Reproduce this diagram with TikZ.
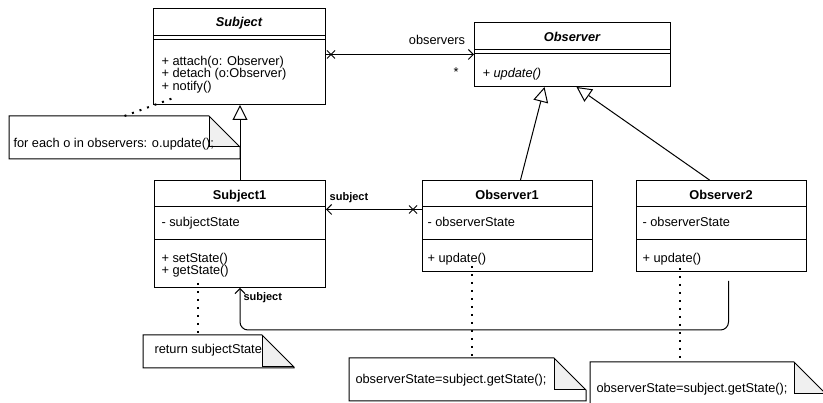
\documentclass[tikz,border=0pt]{standalone}
\usepackage{fontspec}
\setmainfont{Liberation Sans}
\usetikzlibrary{arrows.meta}
\newcommand\umlnote[2]{%
  \fill[gray!12] ([xshift=-#2pt]#1.north east) -- ([xshift=-#2pt,yshift=-#2pt]#1.north east) -- ([yshift=-#2pt]#1.north east) -- cycle;
  \draw (#1.north west) -- ([xshift=-#2pt]#1.north east) -- ([yshift=-#2pt]#1.north east) -- (#1.south east) -- (#1.south west) -- cycle;
  \draw ([xshift=-#2pt]#1.north east) -- ([xshift=-#2pt,yshift=-#2pt]#1.north east) -- ([yshift=-#2pt]#1.north east);}
\begin{document}
\begin{tikzpicture}[x=1pt,y=-1pt,line width=1pt,
  classbox/.style={draw, rectangle, inner sep=0pt, anchor=north west},
  notebox/.style={rectangle, inner sep=0pt, anchor=north west},
  txt/.style={anchor=base west, inner sep=0pt, font=\fontsize{12.8}{15}\selectfont},
  ttl/.style={anchor=base, inner sep=0pt, font=\fontsize{12.8}{15}\selectfont\bfseries},
  lbl/.style={inner sep=0pt, font=\fontsize{11}{13}\selectfont\bfseries},
  assoc/.style={-{Straight Barb[length=5pt,width=10pt]}},
  inh/.style={-{Triangle[length=15pt,width=15pt,fill=white]}},
  dotl/.style={line width=2pt, dash pattern=on 2pt off 6pt}]
\useasboundingbox (0,0) rectangle (823,403);
% Subject
\node[classbox, minimum width=172pt, minimum height=96pt] (subject) at (153,8) {};
\draw (153,36) -- (325,36) (153,40) -- (325,40);
\node[ttl, font=\fontsize{12.8}{15}\selectfont\bfseries\itshape] (subjectT) at (239,26.5) {Subject};
\node[txt] (sm1) at (161,65.5) {+ attach(o: Observer)};
\node[txt] (sm2) at (161,78) {+ detach (o:Observer)};
\node[txt] (sm3) at (161,90.5) {+ notify()};
% Observer
\node[classbox, minimum width=196pt, minimum height=64pt] (observer) at (474,22) {};
\draw (474,50) -- (670,50) (474,54) -- (670,54);
\node[ttl, font=\fontsize{12.8}{15}\selectfont\bfseries\itshape] (observerT) at (572,41.5) {Observer};
\node[txt, font=\fontsize{12.8}{15}\selectfont\itshape] (om1) at (482,77.5) {+ update()};
% Subject1
\node[classbox, minimum width=171pt, minimum height=107pt] (subject1) at (154,180) {};
\draw (154,207) -- (325,207) (154,240) -- (325,240);
\node[ttl] (subject1T) at (239.5,199.5) {Subject1};
\node[txt] (s1a) at (161,226.5) {- subjectState};
\node[txt] (s1m1) at (161,262.5) {+ setState()};
\node[txt] (s1m2) at (161,274.5) {+ getState()};
% Observer1
\node[classbox, minimum width=170pt, minimum height=91pt] (observer1) at (422,180) {};
\draw (422,207) -- (592,207) (422,240) -- (592,240);
\node[ttl] (observer1T) at (507,199.5) {Observer1};
\node[txt] (o1a) at (427,226.5) {- observerState};
\node[txt] (o1m) at (427,262.5) {+ update()};
% Observer2
\node[classbox, minimum width=170pt, minimum height=91pt] (observer2) at (636,180) {};
\draw (636,207) -- (806,207) (636,240) -- (806,240);
\node[ttl] (observer2T) at (721,199.5) {Observer2};
\node[txt] (o2a) at (642,226.5) {- observerState};
\node[txt] (o2m) at (642,262.5) {+ update()};
% dotted note links
\coordinate (d1) at (176,97);
\coordinate (d2) at (198,283);
\coordinate (d3) at (472,266);
\coordinate (d4) at (680,268);
% notes
\node[notebox, minimum width=230pt, minimum height=42pt] (note1) at (9,116) {};
\node[notebox, minimum width=150pt, minimum height=32pt] (note2) at (143,335) {};
\node[notebox, minimum width=236pt, minimum height=42pt] (note3) at (349,358) {};
\node[notebox, minimum width=235pt, minimum height=45pt] (note4) at (590,362) {};
\draw[dotl] (note1.north) -- (d1);
\draw[dotl] (d2) -- (d2 |- note2.north);
\draw[dotl] (d3) -- (d3 |- note3.north);
\draw[dotl] (d4) -- (d4 |- note4.north);
\umlnote{note1}{31}
\umlnote{note2}{32}
\umlnote{note3}{32}
\umlnote{note4}{32}
\node[txt] (n1t) at (13,147.5) {for each o in observers: o.update();};
\node[txt] (n2t) at (154,353.5) {return subjectState};
\node[txt] (n3t) at (355,383.5) {observerState=subject.getState();};
\node[txt] (n4t) at (596,392.5) {observerState=subject.getState();};
% association Subject -> Observer
\draw[assoc] (subject.east |- observer.west) -- (observer.west);
\path (subject.east |- observer.west) ++(5,0) coordinate (x1);
\draw (x1) ++(-4,-4) -- ++(8,8) (x1) ++(-4,4) -- ++(8,-8);
\node[txt, anchor=center] (obsL) at (437,40) {observers};
\node[txt, anchor=center] (starL) at (456,72) {*};
% association Observer1 -> Subject1
\path (observer1.west) ++(0,-16.5) coordinate (a2);
\draw[assoc] (a2) -- (subject1.east |- a2);
\path (a2) ++(-9,0) coordinate (x2);
\draw (x2) ++(-4,-4) -- ++(8,8) (x2) ++(-4,4) -- ++(8,-8);
\node[lbl] (subjL1) at (349,198) {subject};
% inheritance
\draw[inh] (subject1.north) -- (subject1.north |- subject.south);
\path (observer1.north) ++(13,0) coordinate (i1s);
\path (observer.south) ++(-28,0) coordinate (i1e);
\draw[inh] (i1s) -- (i1e);
\path (observer2.north) ++(-12,0) coordinate (i2s);
\path (observer.south) ++(4,0) coordinate (i2e);
\draw[inh] (i2s) -- (i2e);
% Observer2 -> Subject1 (subject)
\path (observer2.south) ++(7,9) coordinate (b0);
\path (b0) ++(0,49) coordinate (b1);
\draw[assoc, rounded corners=8pt] (b0) -- (b1) -| (subject1.south);
\node[lbl, anchor=west] (subjL2) at (243,298) {subject};
\end{tikzpicture}
\end{document}
